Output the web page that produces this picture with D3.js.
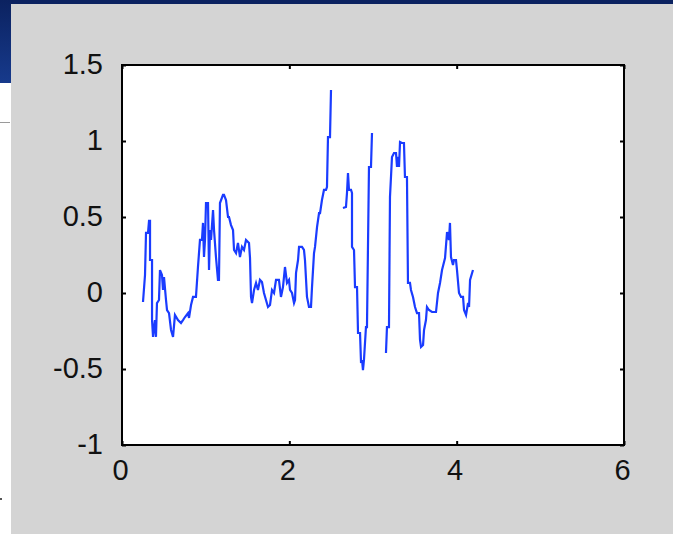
<!DOCTYPE html>
<html>
<head>
<meta charset="utf-8">
<script src="https://cdn.jsdelivr.net/npm/d3@7"></script>
<style>
  html, body { margin: 0; padding: 0; background: #ffffff; }
  svg { display: block; }
</style>
</head>
<body>
<svg id="chart" width="673" height="534"></svg>
<script>
// Signal trace: three recorded stretches, separated by gaps (null).
const tValues = [
  0.251, 0.275, 0.287, 0.311, 0.323, 0.335, 0.335, 0.359, 0.359, 0.371,
  0.394, 0.406, 0.418, 0.442, 0.454, 0.478, 0.490, 0.502, 0.526, 0.538,
  0.562, 0.586, 0.610, 0.633, 0.669, 0.705, 0.729, 0.753, 0.789, 0.801,
  0.825, 0.849, 0.884, 0.908, 0.932, 0.956, 0.968, 0.980, 0.992, 1.004,
  1.028, 1.040, 1.052, 1.064, 1.088, 1.100, 1.123, 1.147, 1.159, 1.171,
  1.207, 1.219, 1.243, 1.267, 1.279, 1.303, 1.327, 1.339, 1.363, 1.386,
  1.410, 1.434, 1.458, 1.482, 1.518, 1.530, 1.542, 1.554, 1.578, 1.602,
  1.625, 1.649, 1.673, 1.697, 1.721, 1.745, 1.769, 1.793, 1.817, 1.841,
  1.876, 1.900, 1.924, 1.948, 1.972, 1.996, 2.008, 2.032, 2.056, 2.068,
  2.080, 2.104, 2.116, 2.151, 2.175, 2.187, 2.211, 2.235, 2.259, 2.271,
  2.295, 2.307, 2.331, 2.355, 2.367, 2.390, 2.414, 2.438, 2.450, 2.462,
  2.486, 2.498,
  2.57,
  2.641, 2.677, 2.689, 2.701, 2.713, 2.737, 2.749, 2.749, 2.773, 2.785,
  2.809, 2.821, 2.845, 2.857, 2.869, 2.880, 2.892, 2.916, 2.928, 2.952,
  2.976, 2.988,
  3.07,
  3.155, 3.167, 3.191, 3.203, 3.227, 3.251, 3.275, 3.287, 3.299, 3.311,
  3.323, 3.346, 3.370, 3.382, 3.406, 3.418, 3.442, 3.454, 3.478, 3.502,
  3.526, 3.550, 3.562, 3.574, 3.598, 3.610, 3.633, 3.645, 3.669, 3.705,
  3.753, 3.777, 3.801, 3.825, 3.849, 3.861, 3.885, 3.908, 3.920, 3.932,
  3.956, 3.968, 3.992, 4.004, 4.028, 4.052, 4.076, 4.088, 4.112, 4.136,
  4.148, 4.160, 4.195
];
const signalValues = [
  -0.059, 0.118, 0.395, 0.395, 0.474, 0.474, 0.217, 0.217, -0.178, -0.289,
  -0.178, -0.289, -0.066, -0.046, 0.151, 0.118, 0.020, 0.105, -0.046, -0.112,
  -0.132, -0.243, -0.289, -0.145, -0.178, -0.197, -0.178, -0.158, -0.132, -0.164,
  -0.079, -0.026, -0.026, 0.171, 0.349, 0.349, 0.461, 0.237, 0.349, 0.592,
  0.592, 0.151, 0.414, 0.349, 0.546, 0.414, 0.237, 0.086, 0.086, 0.592,
  0.645, 0.645, 0.612, 0.500, 0.500, 0.447, 0.414, 0.283, 0.263, 0.329,
  0.237, 0.303, 0.283, 0.349, 0.329, 0.230, -0.026, -0.066, 0.020, 0.066,
  0.020, 0.086, 0.072, 0.000, -0.046, -0.092, -0.079, 0.020, 0.000, 0.086,
  0.086, -0.026, 0.039, 0.171, 0.066, 0.086, 0.020, 0.000, -0.066, -0.046,
  0.132, 0.217, 0.303, 0.303, 0.283, 0.217, -0.026, -0.092, -0.092, 0.039,
  0.263, 0.303, 0.434, 0.526, 0.526, 0.612, 0.678, 0.678, 0.697, 1.026,
  1.026, 1.336,
  null,
  0.559, 0.566, 0.658, 0.789, 0.678, 0.678, 0.658, 0.303, 0.283, 0.039,
  0.039, -0.263, -0.263, -0.461, -0.441, -0.507, -0.441, -0.224, -0.224, 0.829,
  0.829, 1.053,
  null,
  -0.395, -0.224, -0.224, 0.632, 0.895, 0.921, 0.921, 0.829, 0.895, 0.829,
  0.993, 0.987, 0.987, 0.763, 0.763, 0.066, 0.066, 0.020, -0.026, -0.092,
  -0.132, -0.132, -0.309, -0.355, -0.342, -0.243, -0.178, -0.092, -0.112, -0.125,
  -0.125, 0.000, 0.066, 0.151, 0.204, 0.230, 0.401, 0.349, 0.461, 0.237,
  0.184, 0.217, 0.217, 0.151, 0.000, -0.026, -0.026, -0.112, -0.145, -0.066,
  -0.092, 0.086, 0.151
];
const xTickValues = [0, 2, 4, 6];
const yTickValues = [-1, -0.5, 0, 0.5, 1, 1.5];
const xDomain = [0, 6];
const yDomain = [-1, 1.5];

const svg = d3.select("#chart");

// Slide backdrop: navy header strip, white margin, grey figure window.
svg.append("rect").attr("x", 0).attr("y", 0).attr("width", 673).attr("height", 534).attr("fill", "#ffffff");
const grad = svg.append("defs").append("linearGradient")
  .attr("id", "navy").attr("x1", 0).attr("y1", 0).attr("x2", 0).attr("y2", 1);
grad.append("stop").attr("offset", "0%").attr("stop-color", "#0b2260");
grad.append("stop").attr("offset", "100%").attr("stop-color", "#173a8c");
svg.append("rect").attr("x", 0).attr("y", 0).attr("width", 673).attr("height", 4).attr("fill", "#0b2260");
svg.append("rect").attr("x", 0).attr("y", 0).attr("width", 11).attr("height", 83).attr("fill", "url(#navy)");
svg.append("line").attr("x1", 0).attr("x2", 10).attr("y1", 122.5).attr("y2", 122.5)
  .attr("stroke", "#9a9a9a").attr("stroke-width", 1);
svg.append("rect").attr("x", 0).attr("y", 498).attr("width", 2).attr("height", 2).attr("fill", "#555");
svg.append("rect").attr("x", 11).attr("y", 4).attr("width", 662).attr("height", 530).attr("fill", "#d4d4d4");

// Plot area
const plotLeft = 122, plotRight = 624, plotTop = 65, plotBottom = 445;
const x = d3.scaleLinear().domain(xDomain).range([plotLeft, plotRight]);
const y = d3.scaleLinear().domain(yDomain).range([plotBottom, plotTop]);

svg.append("rect").attr("x", plotLeft).attr("y", plotTop)
  .attr("width", plotRight - plotLeft).attr("height", plotBottom - plotTop).attr("fill", "#ffffff");

const points = tValues.map((t, i) => ({ t, v: signalValues[i] }));
const line = d3.line()
  .defined(d => d.v !== null)
  .x(d => x(d.t))
  .y(d => y(d.v));

svg.append("path")
  .datum(points)
  .attr("d", line)
  .attr("fill", "none")
  .attr("stroke", "#1a3cff")
  .attr("stroke-width", 2.2)
  .attr("stroke-linejoin", "miter")
  .attr("stroke-linecap", "butt");

// Axes: inward ticks on all four sides
const tickLen = 4;
const fontFamily = "'Liberation Sans', Arial, sans-serif";

const xAxisB = d3.axisBottom(x).tickValues(xTickValues).tickSize(-tickLen).tickFormat(d3.format("d")).tickPadding(14);
const xAxisT = d3.axisTop(x).tickValues(xTickValues).tickSize(-tickLen).tickFormat("");
const yAxisL = d3.axisLeft(y).tickValues(yTickValues).tickSize(-tickLen).tickFormat(d => String(d)).tickPadding(19);
const yAxisR = d3.axisRight(y).tickValues(yTickValues).tickSize(-tickLen).tickFormat("");

function style(g) {
  g.select(".domain").remove();
  g.selectAll(".tick line").attr("stroke", "#000").attr("stroke-width", 2);
  g.selectAll("text").attr("fill", "#111").attr("font-family", fontFamily).attr("font-size", 29);
}

svg.append("g").attr("transform", `translate(0,${plotBottom})`).call(xAxisB).call(style)
  .selectAll("text").attr("dy", "0.71em").attr("dx", -2);
svg.append("g").attr("transform", `translate(0,${plotTop})`).call(xAxisT).call(style);
svg.append("g").attr("transform", `translate(${plotLeft},0)`).call(yAxisL).call(style)
  .selectAll("text").attr("dy", "0.3em");
svg.append("g").attr("transform", `translate(${plotRight},0)`).call(yAxisR).call(style);

// Axes box
svg.append("rect").attr("x", plotLeft).attr("y", plotTop)
  .attr("width", plotRight - plotLeft).attr("height", plotBottom - plotTop)
  .attr("fill", "none").attr("stroke", "#000").attr("stroke-width", 2);
</script>
</body>
</html>
